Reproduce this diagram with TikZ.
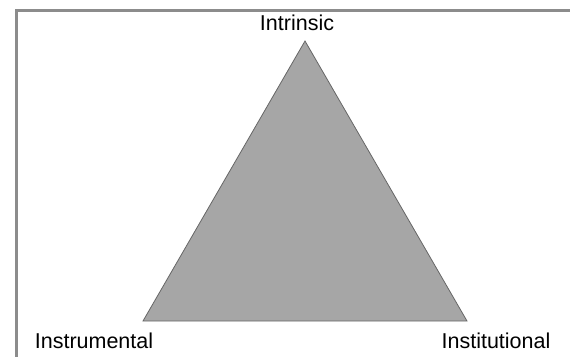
\documentclass[tikz,border=0pt]{standalone}
\usepackage{fontspec}
\setmainfont{Liberation Sans}
\usetikzlibrary{positioning,calc}

\tikzset{
  corner/.style={font=\fontsize{21.5}{24}\selectfont, inner sep=0, anchor=base},
  frame/.style={draw=black!45, line width=3pt},
  tri/.style={draw=black!60, fill=black!35, line width=0.8pt, line join=miter}
}

\begin{document}
\begin{tikzpicture}[x=1pt,y=-1pt]
\useasboundingbox (0,0) rectangle (570,356);
\draw[frame] (16,360) -- (16,10) -- (574,10);
\coordinate (top) at (305,41);
\coordinate (left) at (143,321);
\coordinate (right) at (467,321);
\draw[tri] (top) -- (left) -- (right) -- cycle;
\node[corner] (intrinsic) at (297,30) {Intrinsic};
\node[corner] (instrumental) at (94,348) {Instrumental};
\node[corner] (institutional) at (496,348) {Institutional};
\end{tikzpicture}
\end{document}
